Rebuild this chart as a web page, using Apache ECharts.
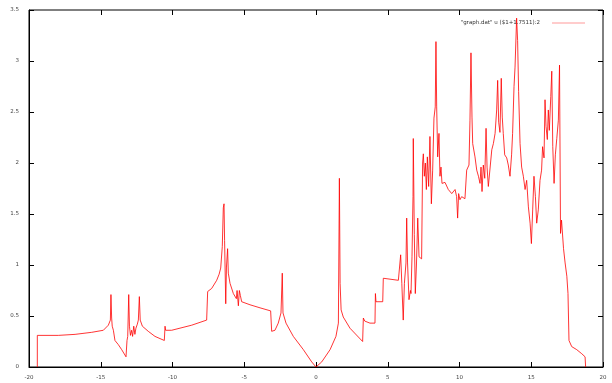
<!DOCTYPE html>
<html>
<head>
<meta charset="utf-8">
<script src="https://cdn.jsdelivr.net/npm/echarts@6/dist/echarts.min.js"></script>
<style>
  html, body { margin: 0; padding: 0; background: #fff; }
  #chart { width: 612px; height: 383px; }
</style>
</head>
<body>
<div id="chart"></div>
<script>
// curve (energy, value)
var xs = [
  -19.42, -19.42, -17.96, -16.79, -15.63, -14.82, -14.47, -14.33, -14.29, -14.24,
  -14.20, -14.12, -14.01, -13.78, -13.54, -13.24, -13.17, -13.12, -13.05, -13.00,
  -12.93, -12.85, -12.78, -12.70, -12.62, -12.55, -12.45, -12.38, -12.31, -12.25,
  -12.10, -11.69, -11.22, -10.57, -10.52, -10.48, -10.06, -8.66, -7.62, -7.55,
  -7.27, -6.92, -6.75, -6.64, -6.53, -6.46, -6.41, -6.37, -6.29, -6.24,
  -6.16, -6.11, -5.99, -5.76, -5.55, -5.50, -5.41, -5.34, -5.27, -5.18,
  -4.60, -3.90, -3.16, -3.09, -2.86, -2.63, -2.44, -2.35, -2.30, -2.09,
  -1.58, -0.88, -0.30, 0.00, 0.40, 0.98, 1.39, 1.56, 1.63, 1.68,
  1.75, 1.90, 2.37, 3.25, 3.30, 3.40, 3.76, 4.11, 4.14, 4.18,
  4.65, 4.69, 5.74, 5.90, 5.98, 6.08, 6.16, 6.27, 6.32, 6.38,
  6.48, 6.58, 6.62, 6.69, 6.76, 6.78, 6.85, 6.92, 7.00, 7.09,
  7.18, 7.36, 7.43, 7.48, 7.55, 7.62, 7.69, 7.76, 7.85, 7.94,
  8.04, 8.13, 8.22, 8.31, 8.36, 8.41, 8.48, 8.57, 8.64, 8.71,
  8.78, 8.99, 9.22, 9.46, 9.69, 9.80, 9.87, 9.94, 10.03, 10.15,
  10.38, 10.50, 10.66, 10.73, 10.80, 10.87, 10.92, 11.08, 11.20, 11.32,
  11.43, 11.50, 11.57, 11.66, 11.76, 11.85, 11.92, 12.01, 12.13, 12.25,
  12.36, 12.48, 12.59, 12.66, 12.73, 12.82, 12.91, 12.98, 13.05, 13.15,
  13.29, 13.40, 13.52, 13.63, 13.70, 13.80, 13.87, 13.98, 14.05, 14.12,
  14.22, 14.33, 14.45, 14.57, 14.68, 14.80, 14.92, 15.01, 15.10, 15.19,
  15.29, 15.38, 15.49, 15.61, 15.72, 15.79, 15.89, 15.96, 16.03, 16.12,
  16.19, 16.26, 16.36, 16.43, 16.50, 16.59, 16.68, 16.78, 16.89, 16.97,
  17.04, 17.11, 17.25, 17.36, 17.48, 17.56, 17.63, 17.82, 18.17, 18.52,
  18.75, 18.79
];
var ys = [
  0.00, 0.31, 0.31, 0.32, 0.34, 0.36, 0.41, 0.46, 0.71, 0.48,
  0.40, 0.36, 0.26, 0.22, 0.17, 0.10, 0.26, 0.30, 0.71, 0.40,
  0.31, 0.36, 0.30, 0.40, 0.32, 0.38, 0.42, 0.46, 0.69, 0.46,
  0.40, 0.35, 0.30, 0.26, 0.40, 0.36, 0.36, 0.41, 0.46, 0.74,
  0.77, 0.85, 0.91, 0.97, 1.18, 1.56, 1.60, 1.24, 0.62, 0.98,
  1.16, 0.92, 0.82, 0.72, 0.67, 0.75, 0.60, 0.75, 0.70, 0.64,
  0.61, 0.58, 0.55, 0.35, 0.36, 0.43, 0.53, 0.92, 0.53, 0.43,
  0.30, 0.17, 0.05, 0.00, 0.05, 0.17, 0.30, 0.43, 1.85, 0.82,
  0.56, 0.49, 0.38, 0.25, 0.48, 0.45, 0.43, 0.43, 0.72, 0.64,
  0.64, 0.87, 0.85, 1.10, 0.82, 0.46, 0.82, 1.02, 1.46, 1.02,
  0.66, 0.75, 0.72, 1.08, 1.67, 2.24, 1.30, 0.72, 1.00, 1.46,
  1.08, 1.06, 2.00, 2.09, 1.87, 2.00, 1.74, 2.06, 1.77, 2.26,
  1.60, 1.93, 2.44, 2.55, 3.19, 2.55, 2.06, 2.29, 1.87, 1.96,
  1.80, 1.81, 1.74, 1.70, 1.74, 1.67, 1.46, 1.70, 1.64, 1.67,
  1.65, 1.93, 1.98, 2.42, 3.08, 2.45, 2.19, 2.06, 1.93, 1.87,
  1.80, 1.96, 1.72, 1.98, 1.85, 2.34, 1.96, 1.77, 1.77, 2.13,
  2.19, 2.29, 2.52, 2.81, 2.40, 2.30, 2.83, 2.45, 2.29, 2.08,
  2.05, 1.98, 1.87, 2.08, 2.29, 2.75, 2.94, 3.42, 3.20, 2.70,
  2.19, 1.96, 1.87, 1.74, 1.83, 1.57, 1.41, 1.21, 1.54, 1.87,
  1.67, 1.41, 1.54, 1.83, 1.93, 2.16, 2.05, 2.62, 2.36, 2.23,
  2.52, 2.32, 2.65, 2.90, 2.16, 1.80, 2.08, 2.24, 2.42, 2.96,
  1.31, 1.44, 1.16, 1.02, 0.89, 0.72, 0.26, 0.20, 0.17, 0.13,
  0.10, 0.00
];
var seriesName = '"graph.dat" u ($1+1.7511):2';

var points = xs.map(function (x, i) { return [x, ys[i]]; });

var chart = echarts.init(document.getElementById('chart'), null, { renderer: 'canvas' });

var labelStyle = { fontFamily: 'DejaVu Sans', fontSize: 5.5, color: '#444' };
var tickStyle = { show: true, inside: true, length: 5, lineStyle: { color: '#000' } };

var option = {
  backgroundColor: '#fff',
  animation: false,
  grid: {
    left: 29, right: 9, top: 10, bottom: 16,
    show: true, borderColor: '#000', borderWidth: 1,
    containLabel: false
  },
  legend: {
    data: [{ name: seriesName, icon: 'rect' }],
    top: 15, right: 22,
    align: 'right',
    itemWidth: 33, itemHeight: 1, itemGap: 0,
    itemStyle: { color: '#ff9a9a', borderWidth: 0 },
    textStyle: { fontFamily: 'DejaVu Sans', fontSize: 5.5, color: '#333', padding: [0, 7, 0, 0] }
  },
  xAxis: [
    {
      type: 'value', min: -20, max: 20, interval: 5,
      axisLine: { show: true, onZero: false, lineStyle: { color: '#000', width: 1 } },
      axisTick: tickStyle,
      axisLabel: Object.assign({ margin: 8 }, labelStyle),
      splitLine: { show: false }
    },
    {
      type: 'value', min: -20, max: 20, interval: 5, position: 'top',
      axisLine: { show: false, onZero: false },
      axisTick: tickStyle,
      axisLabel: { show: false },
      splitLine: { show: false }
    }
  ],
  yAxis: [
    {
      type: 'value', min: 0, max: 3.5, interval: 0.5,
      axisLine: { show: true, onZero: false, lineStyle: { color: '#000', width: 1 } },
      axisTick: tickStyle,
      axisLabel: Object.assign({ margin: 10 }, labelStyle),
      splitLine: { show: false }
    },
    {
      type: 'value', min: 0, max: 3.5, interval: 0.5, position: 'right',
      axisLine: { show: false, onZero: false },
      axisTick: tickStyle,
      axisLabel: { show: false },
      splitLine: { show: false }
    }
  ],
  series: [
    {
      name: seriesName,
      type: 'line',
      data: points,
      showSymbol: false,
      symbol: 'none',
      itemStyle: { color: '#ff0000' },
      lineStyle: { color: '#ff0000', width: 0.8 }
    }
  ]
};

chart.setOption(option);
</script>
</body>
</html>
